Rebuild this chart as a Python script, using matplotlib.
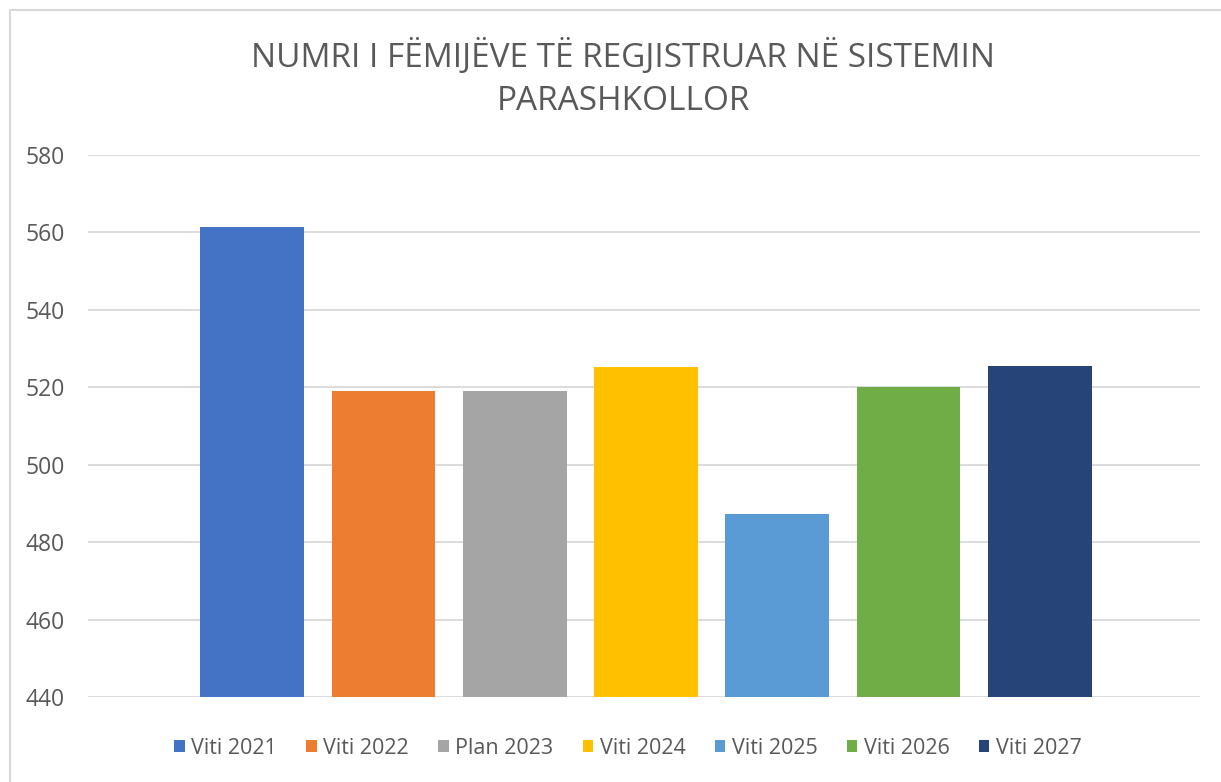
import matplotlib
matplotlib.use("Agg")
import matplotlib.pyplot as plt
from matplotlib.patches import Rectangle, Patch

categories = ["Viti 2021", "Viti 2022", "Plan 2023", "Viti 2024", "Viti 2025", "Viti 2026", "Viti 2027"]
values = [561.5, 519, 519, 525.2, 487.2, 520, 525.5]
colors = ["#4472C4", "#ED7D31", "#A5A5A5", "#FFC000", "#5B9BD5", "#70AD47", "#264478"]
yticks = [440, 460, 480, 500, 520, 540, 560, 580]
title_lines = ["NUMRI I FËMIJËVE TË REGJISTRUAR NË SISTEMIN", "PARASHKOLLOR"]

plt.rcParams['font.family'] = ['Open Sans', 'DejaVu Sans']
W, H = 1221, 782
fig = plt.figure(figsize=(W / 100, H / 100), dpi=100)
fig.patch.set_facecolor("white")

# chart-area border
fig.add_artist(Rectangle((10 / W, -0.2), 1.2, 1.2 - 10 / H, transform=fig.transFigure,
                         fill=False, edgecolor="#d9d9d9", linewidth=1.5))

ax = fig.add_axes([88 / W, 1 - 697 / H, (1200 - 88) / W, (697 - 155) / H])
x = list(range(len(categories)))
ax.bar(x, [v - 440 for v in values], bottom=440, width=0.79, color=colors, zorder=3)
ax.set_xlim(-1.25, 7.22)
ax.set_ylim(440, 580)
ax.set_yticks(yticks)
ax.set_yticklabels([str(t) for t in yticks], fontsize=16.5, color="#595959")
ax.set_xticks([])
ax.tick_params(axis="y", length=0, pad=17)
ax.grid(axis="y", color="#d9d9d9", linewidth=1.3, zorder=0)
for s in ax.spines.values():
    s.set_visible(False)

fig.text(623 / W, 1 - 57 / H, title_lines[0], ha="center", va="center", fontsize=24, color="#595959")
fig.text(623 / W, 1 - 101 / H, title_lines[1], ha="center", va="center", fontsize=24, color="#595959")

handles = [Patch(facecolor=c, edgecolor="none") for c in colors]
fig.legend(handles, categories, loc="center", bbox_to_anchor=(628 / W, 1 - 748 / H), ncol=7,
           frameon=False, fontsize=15.5, labelcolor="#595959", handlelength=0.5, handleheight=0.5,
           handletextpad=0.3, columnspacing=1.35)

fig.savefig("out.png", dpi=100, facecolor="white")
